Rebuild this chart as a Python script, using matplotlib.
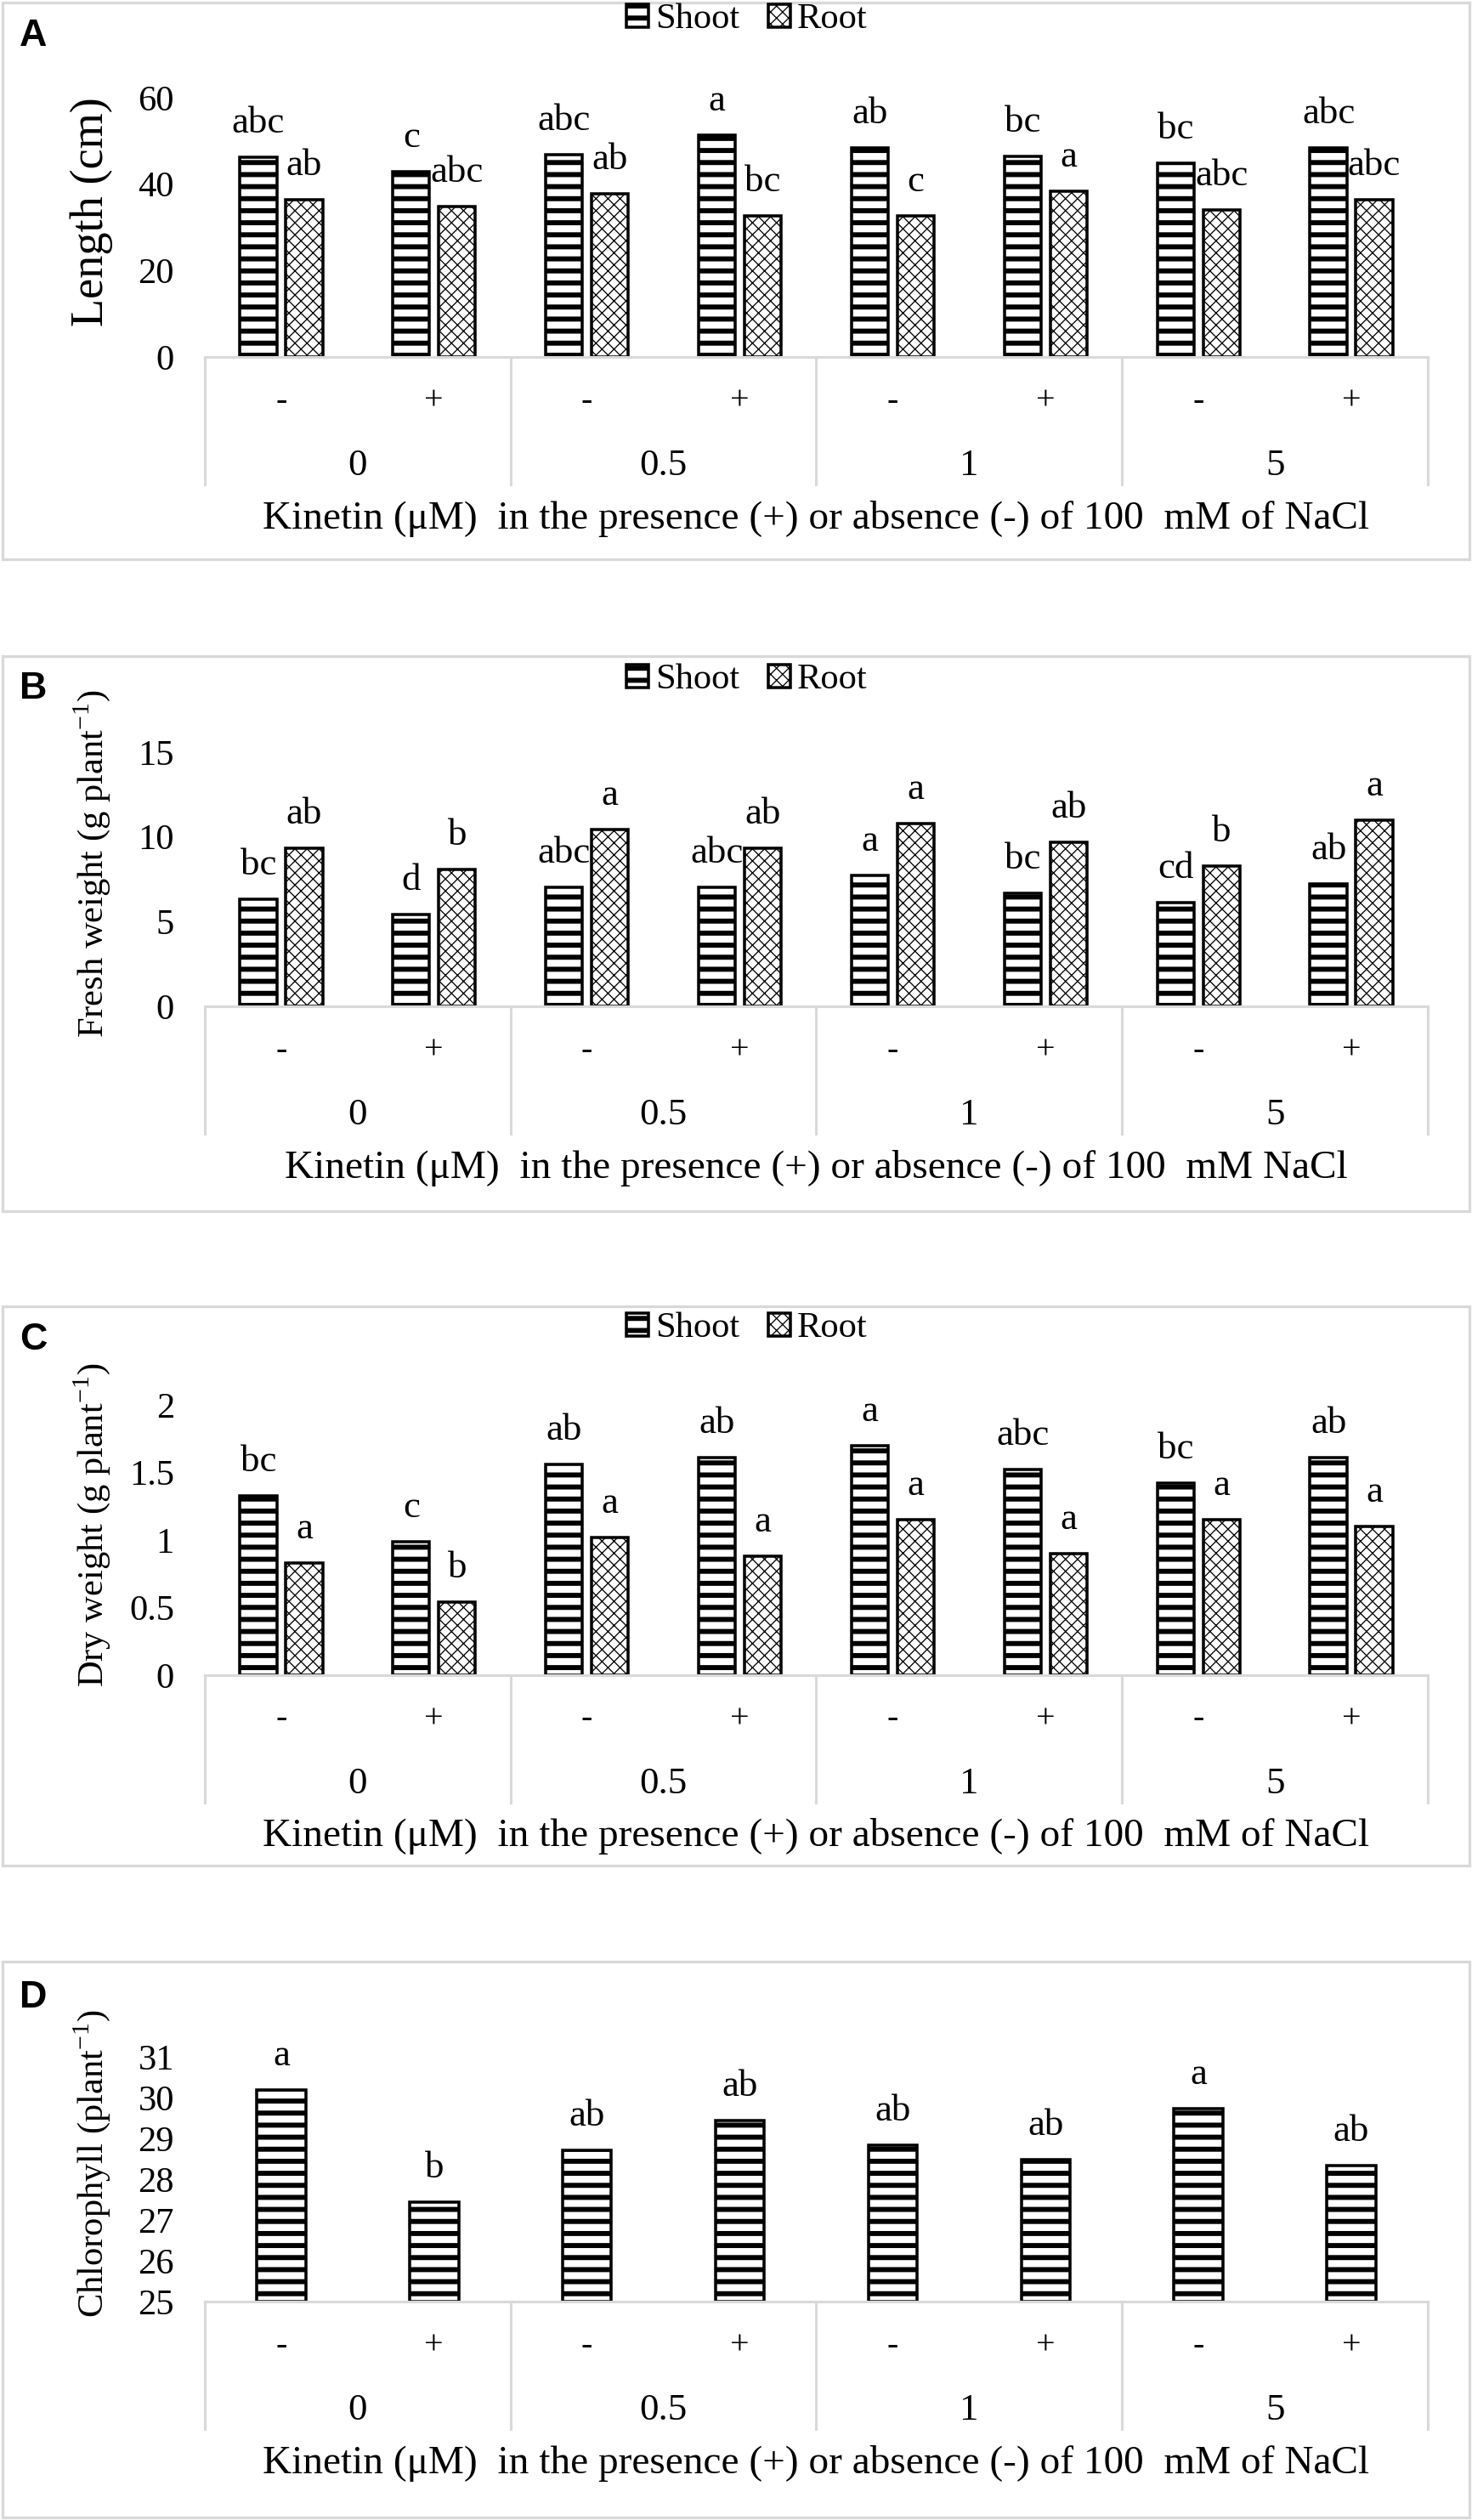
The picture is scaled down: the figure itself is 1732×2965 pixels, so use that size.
import matplotlib
matplotlib.use('Agg')
import matplotlib.pyplot as plt
from matplotlib.patches import Rectangle

# ---- data ----
groups = ['0', '0.5', '1', '5']
salt = ['-', '+']

length_shoot = [46.2, 42.8, 46.9, 51.3, 48.4, 46.4, 44.8, 48.4]
length_root = [36.4, 34.9, 37.7, 32.7, 32.7, 38.4, 34.1, 36.3]
length_shoot_lbl = ['abc', 'c', 'abc', 'a', 'ab', 'bc', 'bc', 'abc']
length_root_lbl = ['ab', 'abc', 'ab', 'bc', 'c', 'a', 'abc', 'abc']

fresh_shoot = [6.3, 5.4, 7.0, 7.0, 7.75, 6.65, 6.1, 7.2]
fresh_root = [9.35, 8.1, 10.45, 9.35, 10.8, 9.7, 8.3, 11.0]
fresh_shoot_lbl = ['bc', 'd', 'abc', 'abc', 'a', 'bc', 'cd', 'ab']
fresh_root_lbl = ['ab', 'b', 'a', 'ab', 'a', 'ab', 'b', 'a']

dry_shoot = [1.33, 0.99, 1.56, 1.61, 1.70, 1.52, 1.42, 1.61]
dry_root = [0.83, 0.54, 1.02, 0.88, 1.15, 0.90, 1.15, 1.10]
dry_shoot_lbl = ['bc', 'c', 'ab', 'ab', 'a', 'abc', 'bc', 'ab']
dry_root_lbl = ['a', 'b', 'a', 'a', 'a', 'a', 'a', 'a']

chl = [30.18, 27.43, 28.70, 29.44, 28.84, 28.48, 29.73, 28.33]
chl_lbl = ['a', 'b', 'ab', 'ab', 'ab', 'ab', 'a', 'ab']

xlab = 'Kinetin (\u03bcM)  in the presence (+) or absence (-) of 100  mM of NaCl'
xlab_b = 'Kinetin (\u03bcM)  in the presence (+) or absence (-) of 100  mM NaCl'

# ---- figure setup ----
W, H, DPI = 1733, 2965, 170
plt.rcParams['font.family'] = ['Liberation Serif', 'DejaVu Serif']
plt.rcParams['mathtext.fontset'] = 'custom'
plt.rcParams['mathtext.rm'] = 'Liberation Serif'
GRID = '#d9d9d9'
SHOOT_HATCH_LW = 2.5
ROOT_HATCH_LW = 0.55

fig = plt.figure(figsize=(W / DPI, H / DPI), dpi=DPI)


def fx(px):
    return px / W


def fy(py):
    return 1 - py / H


def pt(px):
    return px * 72 / DPI


def set_hatch_lw(patches, lw):
    for p in patches:
        if hasattr(p, 'set_hatch_linewidth'):
            p.set_hatch_linewidth(lw)


def panel(box, top, base, letter, ylabel, yticks, ylim, series, xtitle,
          legend_y=None, ylabel_size=18):
    x0, y0, x1, y1 = box
    fig.add_artist(Rectangle((fx(x0), fy(y1)), fx(x1 - x0), (y1 - y0) / H,
                             transform=fig.transFigure, fill=False,
                             edgecolor=GRID, lw=1.4))
    fig.text(fx(39), fy(letter[1]), letter[0], family='Liberation Sans',
             fontweight='bold', fontsize=19, ha='center', va='center')

    left, right = 241, 1680
    ax = fig.add_axes([fx(left), fy(base), fx(right - left), (base - top) / H])
    ax_h = base - top
    x = list(range(8))

    handles = []
    if len(series) == 2:
        (sv, sl), (rv, rl) = series
        b1 = ax.bar([i - 0.15 for i in x], sv, width=0.24,
                    facecolor='white', edgecolor='black', hatch='--', lw=1.5, label='Shoot')
        b2 = ax.bar([i + 0.15 for i in x], rv, width=0.24,
                    facecolor='white', edgecolor='black', hatch='xxxx', lw=1.5, label='Root')
        set_hatch_lw(b1, SHOOT_HATCH_LW)
        set_hatch_lw(b2, ROOT_HATCH_LW)
        handles = [b1, b2]
        for i in x:
            ax.annotate(sl[i], (i - 0.15, sv[i]), xytext=(0, pt(40)), textcoords='offset points',
                        ha='center', va='center', fontsize=19)
            ax.annotate(rl[i], (i + 0.15, rv[i]), xytext=(0, pt(40)), textcoords='offset points',
                        ha='center', va='center', fontsize=19)
    else:
        (cv, cl), = series
        heights = [v - ylim[0] for v in cv]
        b1 = ax.bar(x, heights, bottom=ylim[0], width=0.32, facecolor='white',
                    edgecolor='black', hatch='--', lw=1.5)
        set_hatch_lw(b1, SHOOT_HATCH_LW)
        for i in x:
            ax.annotate(cl[i], (i, cv[i]), xytext=(0, pt(40)), textcoords='offset points',
                        ha='center', va='center', fontsize=19)

    ax.set_xlim(-0.5, 7.5)
    ax.set_ylim(*ylim)
    ax.set_yticks(yticks)
    ax.set_yticklabels([('%g' % t) for t in yticks], fontsize=18)
    ax.set_xticks([])
    ax.tick_params(axis='y', length=0, pad=pt(36))
    for s in ['left', 'right', 'top']:
        ax.spines[s].set_visible(False)
    ax.spines['bottom'].set_color(GRID)
    ax.spines['bottom'].set_linewidth(1.3)

    # category table under the axis
    xt = ax.get_xaxis_transform()
    depth = 150 / ax_h
    for xs in [-0.5, 1.5, 3.5, 5.5, 7.5]:
        ax.plot([xs, xs], [0, -depth], transform=xt, color=GRID, lw=1.3, clip_on=False)
    for i in x:
        ax.text(i, -52 / ax_h, salt[i % 2], transform=xt, ha='center', va='center', fontsize=17)
    for g, name in enumerate(groups):
        ax.text(2 * g + 0.5, -128 / ax_h, name, transform=xt, ha='center', va='center', fontsize=19)
    ax.text(0.5, -190 / ax_h, xtitle, transform=ax.transAxes, ha='center', va='center', fontsize=20)

    ax.text((108 - left) / (right - left), 0.5 + 18 / ax_h, ylabel, transform=ax.transAxes,
            rotation=90, ha='center', va='center', fontsize=ylabel_size)

    if legend_y is not None:
        leg = fig.legend(handles, ['Shoot', 'Root'], loc='center', ncol=2, frameon=False,
                         bbox_to_anchor=(fx(879), fy(legend_y)), bbox_transform=fig.transFigure,
                         fontsize=18, handlelength=0.6, handleheight=0.6,
                         handletextpad=0.2, columnspacing=0.8)
        for h in leg.legend_handles:
            h.set_linewidth(1.5)
        set_hatch_lw(leg.legend_handles[:1], SHOOT_HATCH_LW)
        set_hatch_lw(leg.legend_handles[1:], ROOT_HATCH_LW)
    return ax


panel((3, 3, 1729, 658), 115, 420, ('A', 42), 'Length (cm)', [0, 20, 40, 60], (0, 60),
      [(length_shoot, length_shoot_lbl), (length_root, length_root_lbl)], xlab,
      legend_y=23, ylabel_size=23)
panel((3, 772, 1729, 1425), 885, 1184, ('B', 810), r'Fresh weight (g plant$^{\mathregular{-1}}$)',
      [0, 5, 10, 15], (0, 15),
      [(fresh_shoot, fresh_shoot_lbl), (fresh_root, fresh_root_lbl)], xlab_b, legend_y=800)
panel((3, 1537, 1729, 2195), 1653, 1971, ('C', 1577), r'Dry weight (g plant$^{\mathregular{-1}}$)',
      [0, 0.5, 1, 1.5, 2], (0, 2),
      [(dry_shoot, dry_shoot_lbl), (dry_root, dry_root_lbl)], xlab, legend_y=1563)
panel((3, 2308, 1729, 2962), 2420, 2708, ('D', 2350), r'Chlorophyll (plant$^{\mathregular{-1}}$)',
      [25, 26, 27, 28, 29, 30, 31], (25, 31),
      [(chl, chl_lbl)], xlab)

fig.savefig('out.png', dpi=DPI)
